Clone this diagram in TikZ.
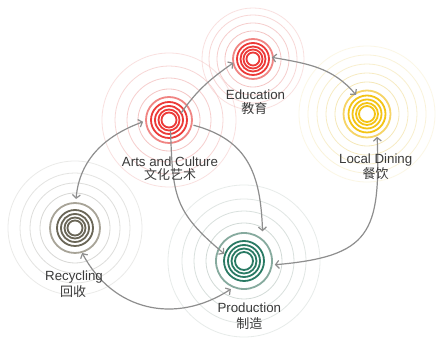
\documentclass[tikz,border=0pt]{standalone}
\usepackage{fontspec}
\setmainfont{Liberation Sans}
\newfontfamily\cjk{Noto Sans CJK SC}
\usetikzlibrary{arrows.meta,calc}
\definecolor{redd}{HTML}{EC3A38}
\definecolor{redm}{HTML}{F08583}
\definecolor{redf}{HTML}{F4C2C1}
\definecolor{yeld}{HTML}{F4C414}
\definecolor{yelm}{HTML}{F6D466}
\definecolor{yelf}{HTML}{F5E7B5}
\definecolor{brnd}{HTML}{6A6657}
\definecolor{brnm}{HTML}{A8A498}
\definecolor{gryf}{HTML}{D6D6D3}
\definecolor{teald}{HTML}{2A7A64}
\definecolor{tealm}{HTML}{86AA9E}
\definecolor{tealf}{HTML}{D0D9D5}
\definecolor{linkgray}{HTML}{8E8E8E}
\definecolor{txt}{HTML}{3A3A3A}
\newcommand\hubdraw[7]{%
  \foreach \r [count=\i, evaluate=\i as \op using {1.1-0.15*\i}] in {#7}
    \draw[halo,draw=#6,opacity=\op] (#1) circle[radius=\r];
  \draw[ring,draw=#4] (#1) circle[radius=#5];
  \foreach \r in {#3} \draw[ring,draw=#2] (#1) circle[radius=\r];
}
\begin{document}
\begin{tikzpicture}[x=1pt,y=1pt,
  ring/.style={line width=1.8pt},
  halo/.style={line width=0.8pt},
  link/.style={draw=linkgray,line width=1.2pt},
  >={Straight Barb[length=3.5pt,width=8pt]},
  en/.style={anchor=base,text=txt,inner sep=0pt,font=\fontsize{13.3}{15}\selectfont},
  zh/.style={anchor=base,text=txt,inner sep=0pt,font=\cjk\fontsize{13}{15}\selectfont}]
\useasboundingbox (0,0) rectangle (436,339);
\fill[white] (0,0) rectangle (436,339);
\coordinate (arts) at (169,219);
\coordinate (edu) at (253,280);
\coordinate (dine) at (367,225);
\coordinate (recy) at (75,111);
\coordinate (prod) at (244,78);
% rings
\hubdraw{arts}{redd}{7.5,10.5,14,18}{redm}{23}{redf}{31,42,54,67}
\hubdraw{edu}{redd}{6.5,9.5,12.5,16}{redm}{20}{redf}{28,36,44,51}
\hubdraw{dine}{yeld}{8,11,14.5,18.5}{yelm}{23.5}{yelf}{32,41,50,59,68}
\hubdraw{recy}{brnd}{7.5,10.5,14,18}{brnm}{25}{gryf}{35,45,55,67}
\hubdraw{prod}{teald}{9,12.5,16,20}{tealm}{28}{tealf}{38,50,62,76}
% connectors
\draw[link,->] ($(arts)+(30:14)$) to[out=55,in=215] ($(edu)+(191:20)$);
\draw[link,<->] ($(edu)+(5:19)$) to[out=-10,in=130] ($(dine)+(120:22)$);
\draw[link,->] ($(arts)+(-12:25)$) to[out=-15,in=92,looseness=1.15] ($(prod)+(58:35)$);
\draw[link,->] ($(arts)+(-82:11)$) to[out=-88,in=140,looseness=1.25] ($(prod)+(160:21)$);
\draw[link,<->] ($(arts)+(184:26)$) to[out=200,in=85] ($(recy)+(88:29)$);
\draw[link,<->] ($(recy)+(-74:26)$) to[out=-62,in=213,looseness=1.1] ($(prod)+(245:31)$);
\draw[link,<->] ($(dine)+(-66:25)$) to[out=-88,in=5,looseness=1.5] ($(prod)+(-7:31)$);
% labels
\node[en] (eduEn) at (255.5,239.6) {Education};
\node[zh] (eduZh) at (254.3,225) {教育};
\node[en] (artsEn) at (170,172.6) {Arts and Culture};
\node[zh] (artsZh) at (170,159) {文化艺术};
\node[en] (dineEn) at (375.7,175) {Local Dining};
\node[zh] (dineZh) at (375.7,160) {餐饮};
\node[en] (recyEn) at (74,58.3) {Recycling};
\node[zh] (recyZh) at (73,42.3) {回收};
\node[en] (prodEn) at (249.3,26) {Production};
\node[zh] (prodZh) at (249.3,10.7) {制造};
\end{tikzpicture}
\end{document}
